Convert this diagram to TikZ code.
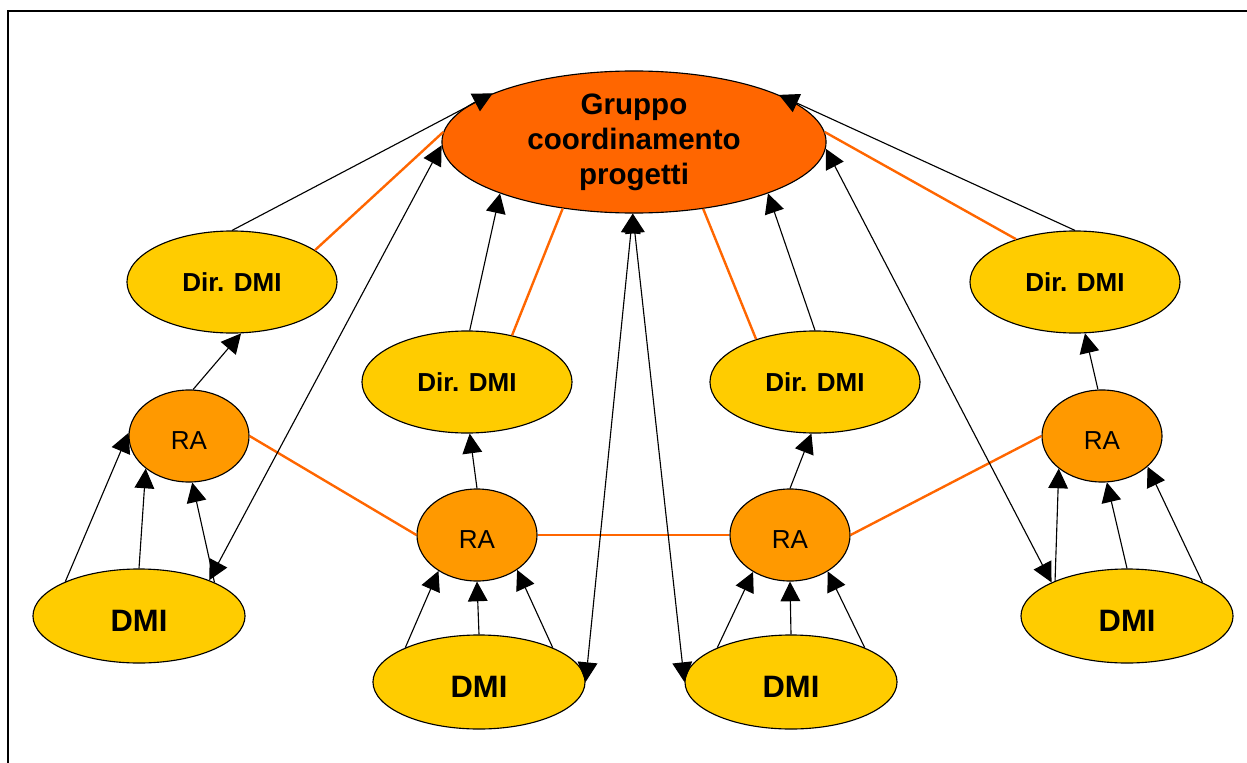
\documentclass[tikz,border=0pt]{standalone}
\usepackage{fontspec}
\setmainfont{Liberation Sans}
\usetikzlibrary{arrows.meta,shapes.geometric}
\definecolor{arancio}{HTML}{FF6600}
\definecolor{giallo}{HTML}{FFCC00}
\definecolor{arancioRA}{HTML}{FF9900}
\begin{document}
\begin{tikzpicture}[>={Triangle[length=14pt,width=14pt]},x=0.025cm,y=-0.025cm,
		ell/.style={ellipse,draw,line width=0.8pt,inner sep=0pt},
		gruppo/.style={ell,fill=arancio,minimum width=9.6cm,minimum height=3.55cm,align=center,font=\bfseries\fontsize{21}{25}\selectfont},
		dir/.style={ell,fill=giallo,minimum width=5.25cm,minimum height=2.55cm,font=\bfseries\fontsize{18.5}{22}\selectfont},
		dmi/.style={ell,fill=giallo,minimum width=5.3cm,minimum height=2.35cm,text height=22pt,font=\bfseries\fontsize{22}{26}\selectfont},
		ra/.style={ell,fill=arancioRA,minimum width=3cm,minimum height=2.3cm,text height=19.5pt,font=\fontsize{18.5}{22}\selectfont},
		freccia/.style={->,line width=0.8pt},
		doppia/.style={<->,line width=0.8pt},
		legame/.style={arancio,line width=1.7pt}]
	\useasboundingbox (0,0) rectangle (1247,762);
	% cornice
	\draw[line width=1.4pt] (8,780) -- (8,11) -- (1260,11);
	% nodi
	\node[gruppo] (grp) at (634,142) {Gruppo\\coordinamento\\progetti};
	\node[dir] (dirA) at (232,282) {Dir. DMI};
	\node[dir] (dirB) at (467,382) {Dir. DMI};
	\node[dir] (dirC) at (815,382) {Dir. DMI};
	\node[dir] (dirD) at (1075,282) {Dir. DMI};
	\node[ra] (raA) at (189,436) {RA};
	\node[ra] (raB) at (477,535) {RA};
	\node[ra] (raC) at (790,535) {RA};
	\node[ra] (raD) at (1102,436) {RA};
	\node[dmi] (dmiA) at (139,616) {DMI};
	\node[dmi] (dmiB) at (479,682) {DMI};
	\node[dmi] (dmiC) at (791,682) {DMI};
	\node[dmi] (dmiD) at (1127,616) {DMI};
	% Dir. DMI -> gruppo
	\draw[freccia] (dirA.90) -- (grp.161);
	\draw[freccia] (dirB.87) -- (grp.201);
	\draw[freccia] (dirC.90) -- (grp.339);
	\draw[freccia] (dirD.90) -- (grp.18);
	% legami arancio
	\draw[legame] (dirA.21) -- (grp.177);
	\draw[legame] (dirB.46) -- (grp.223);
	\draw[legame] (dirC.144) -- (grp.316);
	\draw[legame] (dirD.144) -- (grp.3);
	\draw[legame] (raA.0) -- (raB.180);
	\draw[legame] (raB.0) -- (raC.180);
	\draw[legame] (raC.0) -- (raD.180);
	% RA -> Dir. DMI
	\draw[freccia] (raA.85) -- (dirA.280);
	\draw[freccia] (raB.90) -- (dirB.273);
	\draw[freccia] (raC.90) -- (dirC.266);
	\draw[freccia] (raD.95) -- (dirD.281);
	% DMI -> RA
	\foreach \s/\t in {155/177,90/217,24/274} \draw[freccia] (dmiA.\s) -- (raA.\t);
	\foreach \s/\t in {155/223,90/270,25/319} \draw[freccia] (dmiB.\s) -- (raB.\t);
	\foreach \s/\t in {155/225,90/270,25/316} \draw[freccia] (dmiC.\s) -- (raC.\t);
	\foreach \s/\t in {154/217,90/276,24/326} \draw[freccia] (dmiD.\s) -- (raD.\t);
	% gruppo <-> DMI
	\draw[doppia] (dmiA.27) -- (grp.181);
	\draw[doppia] (dmiB.0) -- (grp.269);
	\draw[doppia] (dmiC.180) -- (grp.269);
	\draw[doppia] (dmiD.156) -- (grp.358);
\end{tikzpicture}
\end{document}
